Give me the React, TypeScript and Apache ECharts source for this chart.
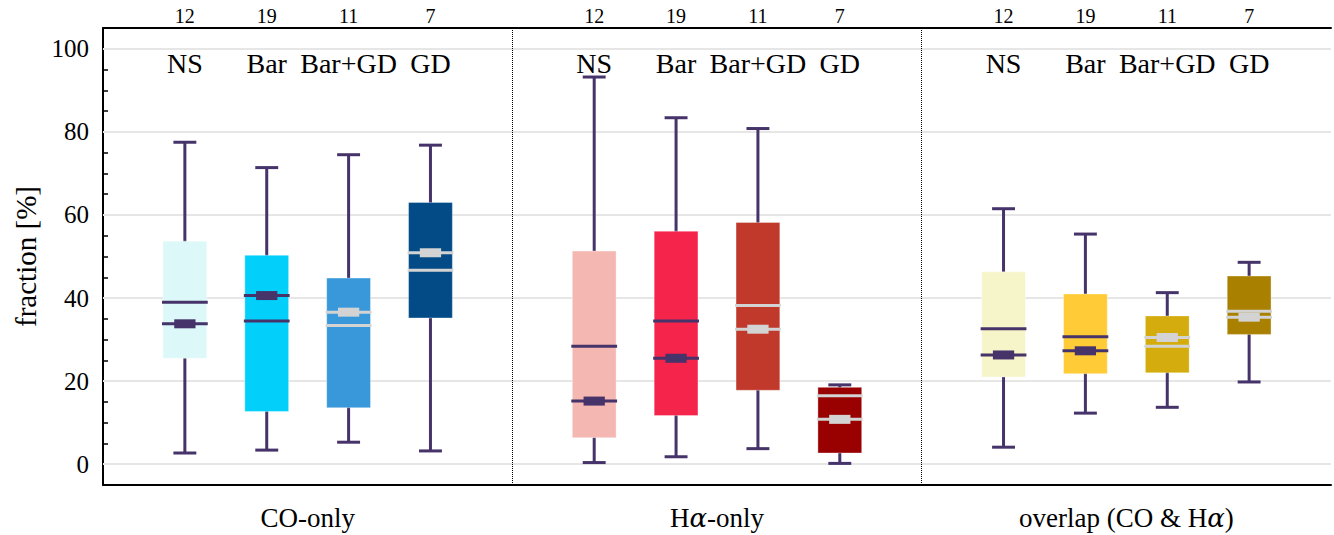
import React, { useEffect, useRef } from 'react';
import * as echarts from 'echarts';

const categories = ['NS', 'Bar', 'Bar+GD', 'GD'];
const groups = ['CO-only', 'Hα-only', 'overlap (CO & Hα)'];
const counts = [
  [12, 19, 11, 7],
  [12, 19, 11, 7],
  [12, 19, 11, 7],
];

// order: CO NS, Bar, Bar+GD, GD | Hα NS, Bar, Bar+GD, GD | overlap NS, Bar, Bar+GD, GD
const whiskerLow = [2.7, 3.4, 5.3, 3.2, 0.4, 1.8, 3.75, 0.2, 4.1, 12.3, 13.7, 19.8];
const q1 = [25.5, 12.7, 13.6, 35.2, 6.4, 11.7, 17.8, 2.7, 21.0, 21.8, 22.0, 31.25];
const median = [39.0, 34.5, 33.4, 46.7, 28.4, 34.5, 38.2, 16.5, 32.6, 30.7, 28.4, 36.8];
const mean = [33.8, 40.6, 36.6, 50.9, 15.2, 25.5, 32.5, 10.8, 26.3, 27.3, 30.5, 35.4];
const q3 = [53.7, 50.3, 44.8, 63.0, 51.3, 56.1, 58.2, 18.5, 46.3, 41.0, 35.7, 45.3];
const whiskerHigh = [77.5, 71.4, 74.5, 76.8, 93.2, 83.4, 80.8, 19.1, 61.5, 55.4, 41.3, 48.6];

const boxColors = [
  '#ddf8f8', '#02cffa', '#3898da', '#024b87',
  '#f5b7b1', '#f5244b', '#c0392b', '#990000',
  '#f6f5c9', '#ffcc38', '#d4ac0d', '#a98000',
];
const lightLines = [false, false, true, true, false, false, true, true, false, false, true, true];
const gridValues = [0, 20, 40, 60, 80, 100];
const dividers = [4, 9];

const FONT = "'Liberation Serif', 'Times New Roman', serif";
const DARK = '#45336a';
const GRAY = '#d3d3d3';

export default function App() {
  const ref = useRef<HTMLDivElement>(null);

  useEffect(() => {
    if (!ref.current) return;
    const chart = echarts.init(ref.current, undefined, { renderer: 'svg' });

    const data: number[][] = [];
    groups.forEach((_, g) => {
      categories.forEach((__, c) => {
        const i = g * 4 + c;
        data.push([g * 5 + c, whiskerLow[i], q1[i], median[i], mean[i], q3[i], whiskerHigh[i], i]);
      });
    });

    const catLabelValue = 96.5;

    const renderItem = (params: any, api: any) => {
      const x = api.value(0);
      const i = api.value(7);
      const pLow = api.coord([x, api.value(1)]);
      const pQ1 = api.coord([x, api.value(2)]);
      const pMed = api.coord([x, api.value(3)]);
      const pMean = api.coord([x, api.value(4)]);
      const pQ3 = api.coord([x, api.value(5)]);
      const pHigh = api.coord([x, api.value(6)]);
      const pLab = api.coord([x, catLabelValue]);
      const bw = api.size([0.535, 0])[0];
      const cw = api.size([0.28, 0])[0];
      const mw = api.size([0.26, 0])[0];
      const cx = pLow[0];
      const lc = lightLines[i] ? GRAY : DARK;
      const color = boxColors[i];
      return {
        type: 'group',
        children: [
          { type: 'line', shape: { x1: cx, y1: pHigh[1], x2: cx, y2: pLow[1] }, style: { stroke: DARK, lineWidth: 3 } },
          { type: 'line', shape: { x1: cx - cw / 2, y1: pHigh[1], x2: cx + cw / 2, y2: pHigh[1] }, style: { stroke: DARK, lineWidth: 3 } },
          { type: 'line', shape: { x1: cx - cw / 2, y1: pLow[1], x2: cx + cw / 2, y2: pLow[1] }, style: { stroke: DARK, lineWidth: 3 } },
          {
            type: 'rect',
            shape: { x: cx - bw / 2, y: pQ3[1], width: bw, height: pQ1[1] - pQ3[1] },
            style: { fill: color, stroke: 'rgba(255,255,255,0.35)', lineWidth: 1 },
          },
          { type: 'line', shape: { x1: cx - bw / 2 - 1, y1: pMed[1], x2: cx + bw / 2 + 1, y2: pMed[1] }, style: { stroke: lc, lineWidth: 3 } },
          { type: 'line', shape: { x1: cx - bw / 2 - 1, y1: pMean[1], x2: cx + bw / 2 + 1, y2: pMean[1] }, style: { stroke: lc, lineWidth: 3 } },
          { type: 'rect', shape: { x: cx - mw / 2, y: pMean[1] - 4.5, width: mw, height: 9 }, style: { fill: lc } },
          {
            type: 'text',
            style: {
              text: categories[i % 4], x: cx, y: pLab[1], fill: '#000', fontSize: 28, fontFamily: FONT,
              align: 'center', verticalAlign: 'middle',
            },
          },
        ],
      };
    };

    const italic = (s: string) => s.replace(/α/g, '{a|α}');

    chart.setOption({
      animation: false,
      grid: { left: 103, top: 28, width: 1233, height: 457, containLabel: false },
      xAxis: [
        {
          type: 'value', min: -1, max: 14, interval: 0.5, position: 'bottom',
          axisLine: { show: true, onZero: false, lineStyle: { color: '#000', width: 2 } },
          axisTick: { show: false },
          splitLine: { show: false },
          axisLabel: {
            margin: 19, fontSize: 27, fontFamily: FONT, color: '#000',
            formatter: (v: number) => {
              const k = (v - 1.5) / 5;
              if (Number.isInteger(k) && k >= 0 && k < groups.length) return italic(groups[k]);
              return '';
            },
            rich: { a: { fontStyle: 'italic', fontSize: 26, fontFamily: "'DejaVu Serif', serif", color: '#000' } },
          },
        },
        {
          type: 'value', min: -1, max: 14, interval: 1, position: 'top',
          axisLine: { show: true, onZero: false, lineStyle: { color: '#000', width: 2 } },
          axisTick: { show: false },
          splitLine: { show: false },
          axisLabel: {
            margin: 2, fontSize: 20, fontFamily: FONT, color: '#000',
            formatter: (v: number) => {
              if (v < 0) return '';
              const g = Math.floor(v / 5);
              const c = v % 5;
              if (g < groups.length && c < 4) return String(counts[g][c]);
              return '';
            },
          },
        },
      ],
      yAxis: {
        type: 'value', min: -5, max: 105, interval: 5,
        axisLine: { show: true, onZero: false, lineStyle: { color: '#000', width: 2 } },
        axisTick: { show: true, inside: true, length: 5, lineStyle: { color: '#000', width: 1.5 } },
        splitLine: { show: false },
        axisLabel: {
          margin: 14, fontSize: 25, fontFamily: FONT, color: '#000',
          formatter: (v: number) => (v >= 0 && v <= 100 && v % 20 === 0 ? String(v) : ''),
        },
        name: 'fraction [%]', nameLocation: 'middle', nameGap: 63,
        nameTextStyle: { fontSize: 29, fontFamily: FONT, color: '#000' },
      },
      series: [
        {
          type: 'line', data: [], z: 1, silent: true,
          markLine: {
            z: 1, symbol: 'none', silent: true, label: { show: false },
            lineStyle: { color: '#e6e6e6', width: 2, type: 'solid' },
            data: gridValues.map((v) => ({ yAxis: v })),
          },
        },
        {
          type: 'line', data: [], z: 2, silent: true,
          markLine: {
            z: 2, symbol: 'none', silent: true, label: { show: false },
            lineStyle: { color: '#000', width: 1, type: 'dotted' },
            data: dividers.map((v) => ({ xAxis: v })),
          },
        },
        {
          type: 'custom', z: 3, renderItem, data,
          encode: { x: 0, y: [1, 2, 3, 4, 5, 6] },
        },
      ],
    });

    return () => chart.dispose();
  }, []);

  return <div ref={ref} style={{ position: 'absolute', left: 0, top: 0, width: 1334, height: 535 }} />;
}
